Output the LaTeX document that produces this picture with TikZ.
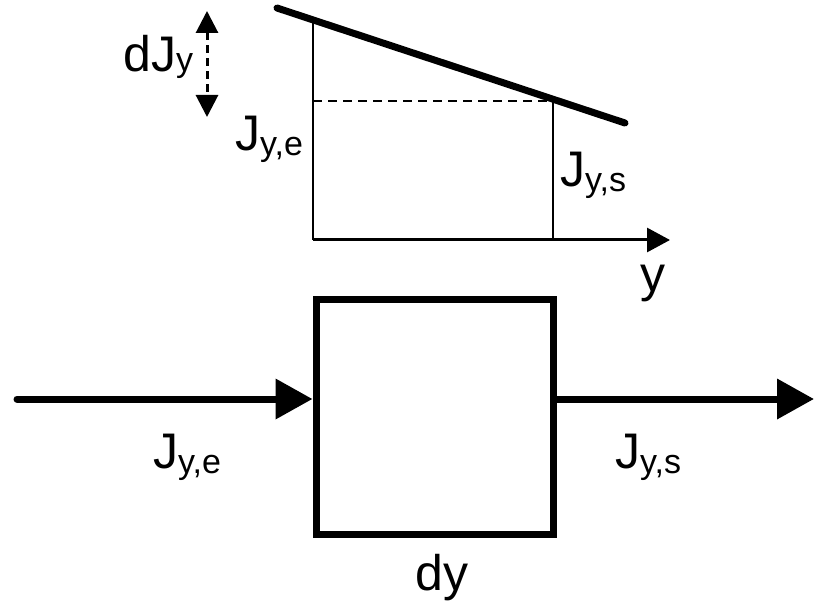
\documentclass[tikz,border=0pt]{standalone}
\usepackage{fontspec}
\setmainfont{Liberation Sans}
\usetikzlibrary{arrows.meta}

\def \labelSize {\fontsize{50}{60}\selectfont}
\def \subSize {\fontsize{34}{40}\selectfont}
\newcommand{\fluxlabel}[1]{J\raisebox{-5pt}{\subSize #1}}

\tikzset{
  lbl/.style={inner sep=0pt, anchor=base west, font=\labelSize},
  thin line/.style={line width=2pt},
  flow/.style={line width=7pt, line cap=round, -{Triangle[length=37pt, width=39pt]}},
  axis/.style={line width=3pt, -{Triangle[length=23pt, width=24pt]}}
}

\begin{document}
\begin{tikzpicture}[x=1pt, y=-1pt]
         \useasboundingbox (0,0) rectangle (814,604);
         % profile of the flux
         \coordinate (profStart) at (277,8);
         \coordinate (profEnd) at (625,123);
         \coordinate (origin) at (313,240);
         \coordinate (axisEnd) at (670,240);
         \coordinate (inTop) at (313,20);
         \coordinate (outTop) at (553,99);
         \coordinate (outFoot) at (553,240);
         \coordinate (dashStart) at (313,101);
         \coordinate (dashEnd) at (553,101);
         \coordinate (dTop) at (207,11);
         \coordinate (dBottom) at (207,117);

         \draw[line width=7pt, line cap=round] (profStart) -- (profEnd);
         \draw[thin line] (origin) -- (inTop);
         \draw[thin line] (outFoot) -- (outTop);
         \draw[thin line, dash pattern=on 9pt off 6pt] (dashStart) -- (dashEnd);
         \draw[axis] (origin) -- (axisEnd);
         \draw[line width=3pt, dash pattern=on 8pt off 5pt,
               {Triangle[length=22pt, width=22pt]}-{Triangle[length=22pt, width=22pt]}] (dTop) -- (dBottom);

         \node[lbl] (dJ) at (123,72) {dJ{\subSize y}};
         \node[lbl] (JeTop) at (235,151) {\fluxlabel{y,e}};
         \node[lbl] (JsTop) at (560,187) {\fluxlabel{y,s}};
         \node[lbl] (yAxis) at (640,291) {y};

         % control volume
         \node[draw, line width=7pt, minimum width=237pt, minimum height=235pt, inner sep=0pt] (cell) at (434.5,416.5) {};
         \coordinate (in) at (17,399);
         \coordinate (out) at (814,399);
         \draw[flow] (in) -- (in -| cell.west);
         \draw[flow] (out -| cell.east) -- (out);

         \node[lbl] (JeBot) at (153,468) {\fluxlabel{y,e}};
         \node[lbl] (JsBot) at (615,468) {\fluxlabel{y,s}};
         \node[lbl] (dy) at (415,590) {dy};
      \end{tikzpicture}
\end{document}
